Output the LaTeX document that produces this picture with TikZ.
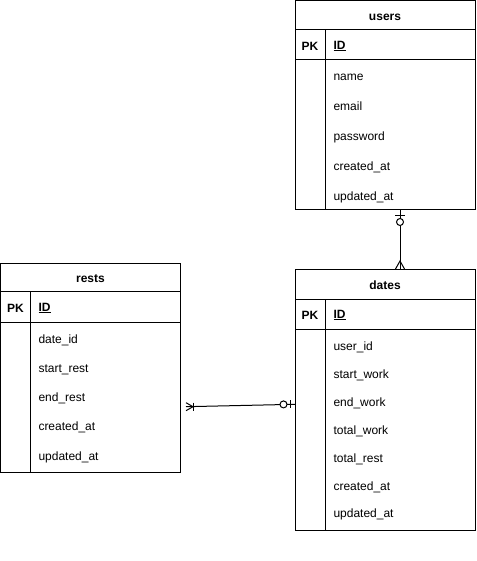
\documentclass[tikz,border=0pt]{standalone}
\usepackage{fontspec}
\setmainfont{Liberation Sans}
\usetikzlibrary{positioning}

\begin{document}
\begin{tikzpicture}[x=1pt,y=-1pt,line width=1pt,
every node/.style={font=\fontsize{12}{14}\selectfont},
cell/.style={draw,anchor=north west,minimum width=180pt,inner sep=0pt,outer sep=0pt},
keycol/.style={draw,anchor=north west,minimum width=30pt,inner sep=0pt,outer sep=0pt},
head/.style={font=\fontsize{12}{14}\selectfont\bfseries,text height=10.8pt,text depth=0pt},
key/.style={inner sep=0pt,yshift=-1.5pt,font=\fontsize{12}{14}\selectfont\bfseries},
attr/.style={anchor=mid west,inner sep=0pt,yshift=-2.5pt}]
\useasboundingbox (0,0) rectangle (476,561);

% users
\node[cell,minimum height=29pt,head] (users) at (295,1) {users};
\node[cell,minimum height=30pt,below=0pt of users] (users-pk) {};
\node[cell,minimum height=149pt,below=0pt of users-pk] (users-body) {};
\node[keycol,minimum height=179pt] (users-key) at (users-pk.north west) {};
\node[key] (users-pkt) at (310,45) {PK};
\node[key,anchor=mid west] (users-id) at (333,45) {\underline{ID}};
\node[attr] (users-name) at (333,75) {name};
\node[attr] (users-email) at (333,105) {email};
\node[attr] (users-password) at (333,135) {password};
\node[attr] (users-created) at (333,165) {created\_at};
\node[attr] (users-updated) at (333,195) {updated\_at};

% rests
\node[cell,minimum height=28pt,head] (rests) at (0.5,263) {rests};
\node[cell,minimum height=31pt,below=0pt of rests] (rests-pk) {};
\node[cell,minimum height=150pt,below=0pt of rests-pk] (rests-body) {};
\node[keycol,minimum height=181pt] (rests-key) at (rests-pk.north west) {};
\node[key] (rests-pkt) at (15.5,307) {PK};
\node[key,anchor=mid west] (rests-id) at (38,307) {\underline{ID}};
\node[attr] (rests-date) at (38,338) {date\_id};
\node[attr] (rests-start) at (38,367) {start\_rest};
\node[attr] (rests-end) at (38,396) {end\_rest};
\node[attr] (rests-created) at (38,425) {created\_at};
\node[attr] (rests-updated) at (38,455) {updated\_at};

% dates
\node[cell,minimum height=30pt,head] (dates) at (295,269) {dates};
\node[cell,minimum height=30pt,below=0pt of dates] (dates-pk) {};
\node[cell,minimum height=201pt,below=0pt of dates-pk] (dates-body) {};
\node[keycol,minimum height=231pt] (dates-key) at (dates-pk.north west) {};
\node[key] (dates-pkt) at (310,314) {PK};
\node[key,anchor=mid west] (dates-id) at (333,314) {\underline{ID}};
\node[attr] (dates-user) at (333,345) {user\_id};
\node[attr] (dates-start) at (333,373) {start\_work};
\node[attr] (dates-end) at (333,401) {end\_work};
\node[attr] (dates-totalw) at (333,429) {total\_work};
\node[attr] (dates-totalr) at (333,457) {total\_rest};
\node[attr] (dates-created) at (333,485) {created\_at};
\node[attr] (dates-updated) at (333,512) {updated\_at};

% users -- dates
\coordinate (ud-top) at (400,209);
\coordinate (ud-bot) at (400,269);
\draw (ud-top) -- (ud-bot);
\draw ([shift={(-5,6)}]ud-top) -- ([shift={(5,6)}]ud-top);
\draw[fill=white] ([shift={(0,13)}]ud-top) circle (3.5pt);
\draw ([shift={(-4.5,0)}]ud-bot) -- ([shift={(0,-8)}]ud-bot) -- ([shift={(4.5,0)}]ud-bot);

% rests -- dates
\coordinate (rd-left) at (186,406.7);
\coordinate (rd-right) at (295,404.3);
\draw (rd-left) -- (rd-right);
\draw ([shift={(0,-4)}]rd-left) -- ([shift={(7,0)}]rd-left) -- ([shift={(0,4)}]rd-left);
\draw ([shift={(7,-4.2)}]rd-left) -- ([shift={(7,4.2)}]rd-left);
\draw ([shift={(-4.5,-4)}]rd-right) -- ([shift={(-4.5,4)}]rd-right);
\draw[fill=white] ([shift={(-11.5,0.1)}]rd-right) circle (3.5pt);
\end{tikzpicture}
\end{document}
